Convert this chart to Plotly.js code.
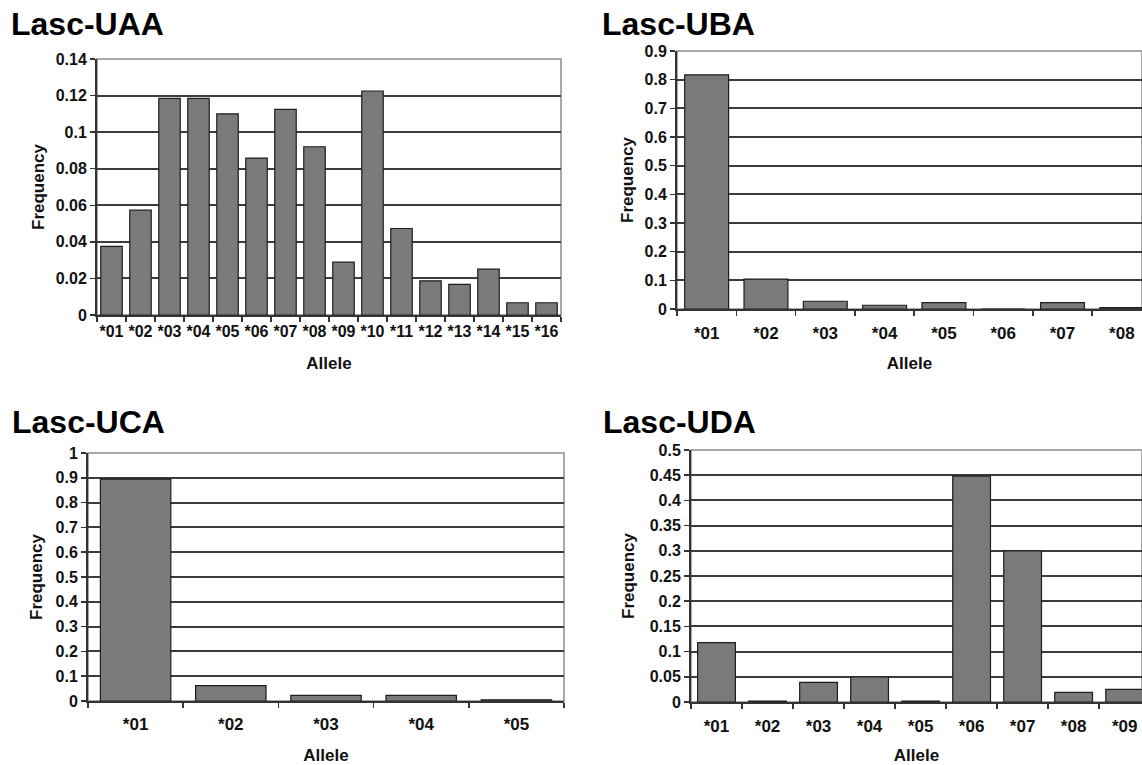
<!DOCTYPE html>
<html>
<head>
<meta charset="utf-8">
<script src="https://cdn.plot.ly/plotly-3.0.1.min.js"></script>
<style>html,body{margin:0;padding:0;background:#fff;}#chart{width:1142px;height:765px;}</style>
</head>
<body>
<div id="chart"></div>
<script>
// ---- data ----
const uaaAlleles = ["*01","*02","*03","*04","*05","*06","*07","*08","*09","*10","*11","*12","*13","*14","*15","*16"];
const uaaFreq = [0.0375,0.0573,0.1185,0.1185,0.110,0.0858,0.1125,0.092,0.0289,0.1225,0.0473,0.0187,0.0167,0.0251,0.0067,0.0067];
const ubaAlleles = ["*01","*02","*03","*04","*05","*06","*07","*08"];
const ubaFreq = [0.817,0.104,0.027,0.013,0.022,0,0.022,0.005];
const ucaAlleles = ["*01","*02","*03","*04","*05"];
const ucaFreq = [0.895,0.062,0.023,0.023,0.005];
const udaAlleles = ["*01","*02","*03","*04","*05","*06","*07","*08","*09"];
const udaFreq = [0.118,0.002,0.039,0.050,0.002,0.448,0.300,0.019,0.025];

const uaaTickVals = [0,0.02,0.04,0.06,0.08,0.1,0.12,0.14];
const uaaTickText = ["0","0.02","0.04","0.06","0.08","0.1","0.12","0.14"];
const ubaTickVals = [0,0.1,0.2,0.3,0.4,0.5,0.6,0.7,0.8,0.9];
const ubaTickText = ["0","0.1","0.2","0.3","0.4","0.5","0.6","0.7","0.8","0.9"];
const ucaTickVals = [0,0.1,0.2,0.3,0.4,0.5,0.6,0.7,0.8,0.9,1];
const ucaTickText = ["0","0.1","0.2","0.3","0.4","0.5","0.6","0.7","0.8","0.9","1"];
const udaTickVals = [0,0.05,0.1,0.15,0.2,0.25,0.3,0.35,0.4,0.45,0.5];
const udaTickText = ["0","0.05","0.1","0.15","0.2","0.25","0.3","0.35","0.4","0.45","0.5"];

const panelTitles = ["Lasc-UAA","Lasc-UBA","Lasc-UCA","Lasc-UDA"];
const xTitle = "Allele";
const yTitle = "Frequency";

// ---- layout helpers ----
const W = 1142, H = 765;
const FF = "Liberation Sans, Arial, Helvetica, sans-serif";
const px = v => v / W;
const py = v => 1 - v / H;

const barStyle = {color:"#7a7a7a", line:{color:"#1e1e1e", width:1.2}};
function bar(x, y, xa, ya) {
  return {type:"bar", x:x, y:y, xaxis:xa, yaxis:ya, marker:barStyle, hoverinfo:"x+y", showlegend:false};
}
const data = [
  bar(uaaAlleles, uaaFreq, "x", "y"),
  bar(ubaAlleles, ubaFreq, "x2", "y2"),
  bar(ucaAlleles, ucaFreq, "x3", "y3"),
  bar(udaAlleles, udaFreq, "x4", "y4")
];

function xax(domain, range, anchor, fs, lblOff, standoff) {
  return {domain:domain, range:range, anchor:anchor, type:"category",
    showline:true, linecolor:"#333", linewidth:2, showgrid:false, zeroline:false,
    ticks:"outside", tickson:"boundaries", ticklen:5, tickwidth:1.5, tickcolor:"#333",
    tickangle:0, ticklabelstandoff:lblOff,
    tickfont:{family:FF, size:fs, color:"#111", weight:"bold"},
    title:{text:xTitle, standoff:standoff, font:{family:FF, size:17, color:"#111", weight:"bold"}},
    fixedrange:true};
}
function yax(domain, range, anchor, tv, tt, standoff) {
  return {domain:domain, range:range, anchor:anchor,
    showline:true, linecolor:"#333", linewidth:2, showgrid:true, gridcolor:"#3c3c3c", gridwidth:2,
    zeroline:false, ticks:"outside", ticklen:5, tickwidth:1.5, tickcolor:"#333",
    tickvals:tv, ticktext:tt,
    tickfont:{family:FF, size:16, color:"#111", weight:"bold"},
    title:{text:yTitle, standoff:standoff, font:{family:FF, size:17, color:"#111", weight:"bold"}},
    fixedrange:true};
}
function frame(xr, yr) {
  return {type:"rect", xref:xr+" domain", yref:yr+" domain", x0:0, x1:1, y0:0, y1:1,
    line:{color:"#8c8c8c", width:1.5}, layer:"below"};
}
function ptitle(text, x, y) {
  return {text:text, xref:"paper", yref:"paper", x:px(x), y:py(y), xanchor:"left", yanchor:"middle",
    showarrow:false, font:{family:FF, size:32, color:"#000", weight:"bold"}};
}

const layout = {
  width:W, height:H, margin:{l:0, r:0, t:0, b:0},
  paper_bgcolor:"#fff", plot_bgcolor:"#fff", bargap:0.26, showlegend:false,
  xaxis:  xax([px(97), px(561)], [-0.5, 15.5], "y", 16, 1, 18),
  yaxis:  yax([py(315), py(59)], [0, 0.14], "x", uaaTickVals, uaaTickText, 7),
  xaxis2: xax([px(677), 1], [-0.5, 7.34], "y2", 17, 8, 15),
  yaxis2: yax([py(309), py(51)], [0, 0.9], "x2", ubaTickVals, ubaTickText, 7),
  xaxis3: xax([px(88), px(564)], [-0.5, 4.5], "y3", 17, 7, 18),
  yaxis3: yax([py(701), py(453)], [0, 1], "x3", ucaTickVals, ucaTickText, 9),
  xaxis4: xax([px(691), 1], [-0.5, 8.34], "y4", 17, 8, 16),
  yaxis4: yax([py(702), py(450)], [0, 0.5], "x4", udaTickVals, udaTickText, 11),
  shapes: [frame("x","y"), frame("x2","y2"), frame("x3","y3"), frame("x4","y4")],
  annotations: [
    ptitle(panelTitles[0], 9, 24),
    ptitle(panelTitles[1], 600, 24),
    ptitle(panelTitles[2], 10, 422),
    ptitle(panelTitles[3], 601, 422)
  ]
};

Plotly.newPlot("chart", data, layout, {staticPlot:true, displayModeBar:false});
</script>
</body>
</html>
